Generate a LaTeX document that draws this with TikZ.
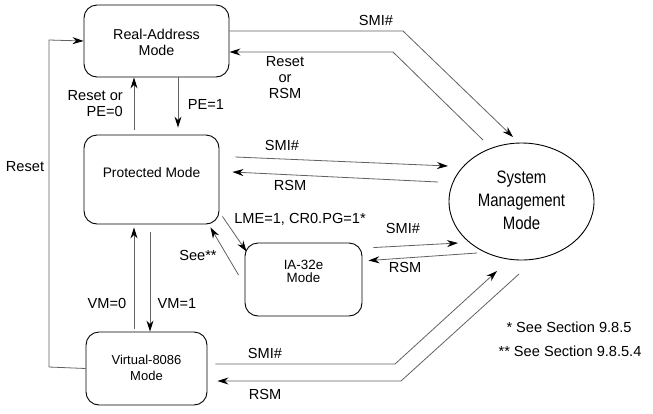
\documentclass[tikz,border=0pt]{standalone}
\usepackage{fontspec}
\setmainfont{Liberation Sans}
\usetikzlibrary{arrows.meta,shapes.geometric,calc}
\begin{document}
\begin{tikzpicture}[x=1pt,y=-1pt,
  modebox/.style={draw=black,line width=0.9pt,rounded corners=13pt,inner sep=0pt},
  boxtext/.style={align=center,inner sep=0pt,font=\fontsize{14.3}{16}\selectfont},
  smalltext/.style={align=center,inner sep=0pt,font=\fontsize{13}{14}\selectfont},
  conn/.style={draw=black!62,line width=0.8pt,-{Stealth[length=11pt,width=7pt,color=black]}},
  lbl/.style={font=\fontsize{14.6}{16}\selectfont,align=center,inner sep=0pt}]
\useasboundingbox (0,0) rectangle (653,413);
% boxes
\node[modebox,minimum width=145pt,minimum height=72pt] (real) at (156.5,41) {};
\node[boxtext] (realtxt) at ($(real)+(0,1)$) {Real-Address\\Mode};
\node[modebox,minimum width=135pt,minimum height=89pt] (prot) at (151.5,179.5) {};
\node[boxtext,font=\fontsize{13.8}{16}\selectfont] (prottxt) at ($(prot)+(0,-6.5)$) {Protected Mode};
\node[modebox,minimum width=117pt,minimum height=73pt] (ia) at (303.5,279.5) {};
\node[smalltext,font=\fontsize{13.4}{14}\selectfont] (iatxt) at ($(ia)+(0,-8)$) {IA-32e\\[-0.5pt]Mode};
\node[modebox,minimum width=121pt,minimum height=73pt] (virt) at (146.5,368.5) {};
\node[smalltext] (virttxt) at ($(virt)+(0,-1)$) {Virtual-8086\\[2pt]Mode};
\node[draw=black,line width=0.9pt,ellipse,minimum width=145pt,minimum height=117pt,inner sep=0pt] (smm) at (521.5,201.5) {};
\node[inner sep=0pt] (smmtxt) at ($(smm)+(0,0.5)$) {\scalebox{0.83}[1]{\fontsize{18}{23}\selectfont\begin{tabular}{@{}c@{}}System\\Management\\Mode\end{tabular}}};
% coordinates near SMM
\coordinate (smmA) at (513,137);
\coordinate (smmB) at (483,140);
\coordinate (smmC) at (448,166);
\coordinate (smmD) at (438,182);
\coordinate (smmE) at (458,243);
\coordinate (smmF) at (477,253);
\coordinate (smmG) at (497,271);
\coordinate (smmH) at (519,274);
\coordinate (loopbot) at (49,367);
\coordinate (looptop) at (49,40);
% Real-Address <-> SMM
\draw[conn] ([yshift=10pt]real.east) -- (403,31) -- (smmA);
\draw[conn] (smmB) -- (393,52) -- ([yshift=-11pt]real.east);
% Real <-> Protected
\draw[conn] ($(prot.north)+(-17.5,-5)$) -- ([xshift=-22.5pt]real.south);
\draw[conn] ([xshift=21.5pt]real.south) -- ($(prot.north)+(26.5,-7)$);
% Protected <-> SMM
\draw[conn] ($(prot.east)+(16,-22.5)$) -- (smmC);
\draw[conn] (smmD) -- ($(prot.east)+(13,-7.5)$);
% Protected <-> IA-32e
\draw[conn] ($(prot.south east)+(3,-8)$) -- ($(ia.north west)+(2,9)$);
\draw[conn] ($(ia.west)+(-6,-4.5)$) -- ($(prot.south east)+(-9,3)$);
% IA-32e <-> SMM
\draw[conn] ($(ia.north east)+(11,5)$) -- (smmE);
\draw[conn] (smmF) -- ($(ia.north east)+(6,18)$);
% Protected <-> Virtual
\draw[conn] ($(virt.north)+(-12.5,-3)$) -- ($(prot.south)+(-17.5,3)$);
\draw[conn] ($(prot.south)+(-1.5,8)$) -- ($(virt.north)+(3.5,0)$);
% Reset loop
\draw[conn] (virt.west) -- (loopbot) -- (looptop) -- (real.west);
% Virtual <-> SMM
\draw[conn] ($(virt.east)+(8,-4.5)$) -- (395,364) -- (smmG);
\draw[conn] (smmH) -- (401,381) -- ($(virt.east)+(10,12.5)$);
% labels
\node[lbl] (l1) at (376,20) {SMI\#};
\node[lbl,align=center] (l2) at (285,78) {Reset\\or\\RSM};
\node[lbl,align=right,anchor=east] (l3) at (123,103.5) {Reset or\\PE=0};
\node[lbl] (l4) at (206,104) {PE=1};
\node[lbl] (l5) at (282,145) {SMI\#};
\node[lbl] (l6) at (290,185) {RSM};
\node[lbl] (l7) at (25,167) {Reset};
\node[lbl] (l8) at (300,219) {LME=1, CR0.PG=1*};
\node[lbl] (l9) at (198,255) {See**};
\node[lbl] (l10) at (403,228) {SMI\#};
\node[lbl] (l11) at (405,267) {RSM};
\node[lbl] (l12) at (107,303) {VM=0};
\node[lbl] (l13) at (177,303) {VM=1};
\node[lbl] (l14) at (265,353) {SMI\#};
\node[lbl] (l15) at (265,394) {RSM};
\node[lbl] (f1) at (569,327) {* See Section 9.8.5};
\node[lbl] (f2) at (570,351) {** See Section 9.8.5.4};
\end{tikzpicture}
\end{document}
